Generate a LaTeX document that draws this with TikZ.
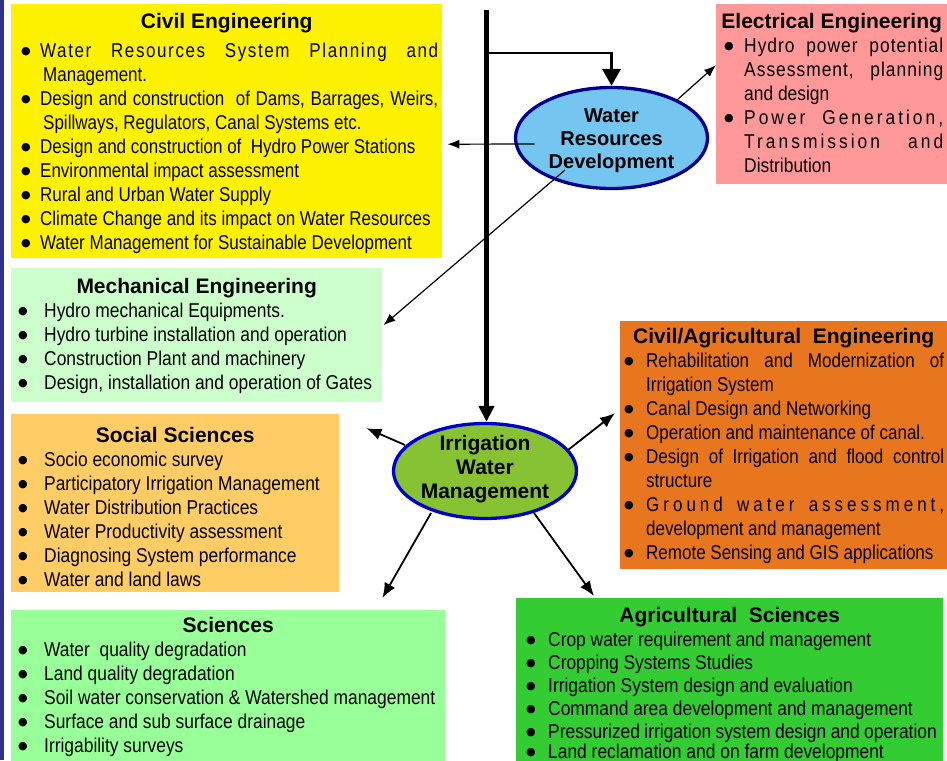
\documentclass[tikz,border=0pt]{standalone}
\usepackage{fontspec}
\setmainfont{Liberation Sans}[FakeStretch=0.87]
\newfontfamily\headfont{Liberation Sans}
\newfontfamily\tightfont{Liberation Sans}[FakeStretch=0.85]
\newfontfamily\dotfont{DejaVu Sans}
\usetikzlibrary{shapes.geometric,arrows.meta,calc}

\definecolor{cYellow}{HTML}{FFF200}
\definecolor{cPink}{HTML}{FF9999}
\definecolor{cMint}{HTML}{CCFFCC}
\definecolor{cPeach}{HTML}{FFCC66}
\definecolor{cLight}{HTML}{99FF99}
\definecolor{cOrange}{HTML}{E8761E}
\definecolor{cGreen}{HTML}{33CC33}
\definecolor{cSky}{HTML}{74C5F0}
\definecolor{cNavy}{HTML}{00008F}
\definecolor{cLime}{HTML}{86C232}
\definecolor{cRoyal}{HTML}{0000CC}
\definecolor{cEdge}{HTML}{2E3192}

\newlength{\bulw}
\newlength{\bulpre}
% bullet item with hanging indent
\newcommand{\itm}[1]{\par\hangindent=\bulw\hangafter=1\noindent
  \hbox to \bulw{\hskip\bulpre{\dotfont\fontsize{11}{0}\selectfont\raisebox{3pt}{●}}\hss}#1}
\newcommand{\hd}[1]{\centerline{\headfont\bfseries\fontsize{21}{24}\selectfont #1}}
\newcommand{\pbox}[3]{\parbox[c][#1][t]{#2}{\fontsize{20}{24}\selectfont
  \hyphenpenalty=10000 \exhyphenpenalty=10000 #3}}

\tikzset{
 b/.style
  = {rectangle, anchor=north west, inner sep=0pt},
 hub/.style
  = {ellipse, draw, line width=3.3pt, inner sep=0pt, align=center},
 l/.style
  = {draw, -{Latex[length=12pt,width=9pt]}, line width=1.2pt},
 ll/.style
  = {draw, -{Latex[length=15pt,width=12pt]}, line width=1.8pt},
 lll/.style
  = {draw, -{Triangle[length=16pt,width=15pt]}, line width=5.3pt},
}

\begin{document}
\begin{tikzpicture}[x=1pt,y=-1pt]
    \useasboundingbox (0,0) rectangle (947,760);
    \clip (0,0) rectangle (947,760);
    \fill[white] (0,0) rectangle (947,760);
    \fill[cEdge] (0,0) rectangle (3.5,760);

    % subject boxes
    \node [b, fill=cYellow, inner xsep=4pt, inner ysep=9pt] (civil) at (11,4) {\pbox{236pt}{423pt}{\tightfont
      \setlength{\bulpre}{6pt}\setlength{\bulw}{25pt}
      \hd{Civil Engineering}\vspace{5pt}
      \itm{{\addfontfeature{LetterSpace=8}Water Resources System Planning and}\linebreak \hspace*{3pt}Management.}
      \itm{Design and construction\ \ of Dams, Barrages, Weirs,\linebreak \hspace*{3pt}Spillways, Regulators, Canal Systems etc.}
      \itm{Design and construction of\ \ Hydro Power Stations}
      \itm{Environmental impact assessment}
      \itm{Rural and Urban Water Supply}
      \itm{Climate Change and its impact on Water Resources}
      \itm{Water Management for Sustainable Development}}};
    \node [b, fill=cPink, inner xsep=4pt, inner ysep=9pt] (elec) at (716,4) {\pbox{162pt}{223pt}{
      \setlength{\bulpre}{4pt}\setlength{\bulw}{24pt}
      \hd{Electrical Engineering}
      \itm{{\addfontfeature{LetterSpace=5}Hydro power potential\linebreak Assessment, planning\linebreak}and design}
      \itm{{\addfontfeature{LetterSpace=15}Power Generation,\linebreak Transmission and\linebreak}Distribution}}};
    \node [b, fill=cMint, inner xsep=4pt, inner ysep=10pt] (mech) at (11,268) {\pbox{114pt}{363pt}{
      \setlength{\bulpre}{3pt}\setlength{\bulw}{29pt}
      \hd{Mechanical Engineering}
      \itm{Hydro mechanical Equipments.}
      \itm{Hydro turbine installation and operation}
      \itm{Construction Plant and machinery}
      \itm{Design, installation and operation of Gates}}};
    \node [b, fill=cPeach, inner xsep=4pt, inner ysep=13pt] (social) at (11,414) {\pbox{152pt}{320pt}{
      \setlength{\bulpre}{3pt}\setlength{\bulw}{29pt}
      \hd{Social Sciences}
      \itm{Socio economic survey}
      \itm{Participatory Irrigation Management}
      \itm{Water Distribution Practices}
      \itm{Water Productivity assessment}
      \itm{Diagnosing System performance}
      \itm{Water and land laws}}};
    \node [b, fill=cLight, inner xsep=4pt, inner ysep=7pt] (sci) at (11,610) {\pbox{150pt}{426pt}{
      \setlength{\bulpre}{3pt}\setlength{\bulw}{29pt}
      \hd{Sciences}
      \itm{Water\ \ quality degradation}
      \itm{Land quality degradation}
      \itm{Soil water conservation \& Watershed management}
      \itm{Surface and sub surface drainage}
      \itm{Irrigability surveys}}};
    \node [b, fill=cOrange, inner xsep=3pt, inner ysep=7pt] (civagri) at (620,321) {\pbox{234pt}{321pt}{\tightfont
      \setlength{\bulpre}{1pt}\setlength{\bulw}{23pt}
      \hd{Civil/Agricultural\ \ Engineering}
      \itm{Rehabilitation and Modernization of\linebreak Irrigation System}
      \itm{Canal Design and Networking}
      \itm{Operation and maintenance of canal.}
      \itm{Design of Irrigation and flood control\linebreak structure}
      \itm{{\addfontfeature{LetterSpace=20}Ground water assessment,\linebreak}development and management}
      \itm{Remote Sensing and GIS applications}}};
    \node [b, fill=cGreen, inner xsep=2pt, inner ysep=9pt] (agri) at (516,598) {\pbox{160pt}{423pt}{
      \fontsize{20}{23}\selectfont
      \setlength{\bulpre}{8pt}\setlength{\bulw}{30pt}
      \hd{Agricultural\ \ Sciences}\vspace{1pt}
      \itm{Crop water requirement and management}
      \itm{Cropping Systems Studies}
      \itm{Irrigation System design and evaluation}
      \itm{Command area development and management}
      \itm{Pressurized irrigation system design and operation}
      \vspace{-3pt}
      \itm{Land reclamation and on farm development}}};

    % the two hubs
    \node [hub, fill=cSky, draw=cNavy, minimum width=192pt, minimum height=101pt,
      font=\headfont\bfseries\fontsize{20}{23}\selectfont] (wrd) at (611.5,138) {\rule{0pt}{19.5pt}Water\\Resources\\Development};
    \node [hub, fill=cLime, draw=cRoyal, minimum width=183pt, minimum height=95pt, inner sep=-3pt,
      font=\headfont\bfseries\fontsize{21}{24}\selectfont] (iwm) at (485,471) {Irrigation\\Water\\Management\rule[-9pt]{0pt}{0pt}};

    % main stem and branch
    \coordinate (top) at (486.5,10);
    \coordinate (fork) at (486.5,53);
    \path [lll] (top) -- (top |- iwm.north);
    \draw [line width=2pt] (fork) -- ([xshift=1pt]fork -| wrd.north);
    \path [lll, line width=3.5pt, -{Triangle[length=17pt,width=18pt]}] ([yshift=-1pt]fork -| wrd.north) -- (wrd.north);

    % links out of the hubs
    \path [l] ($(wrd)+(-77,6)$) -- ($(civil.east)+(5,13)$);
    \path [l] ($(wrd)+(65.5,-38)$) -- ($(elec.west)+(0,-29)$);
    \path [l] ($(wrd)+(-46.5,32)$) -- ($(mech.east)+(1,-10)$);
    \path [ll] ($(iwm)+(-80,-26)$) -- ($(social.east)+(27,-75)$);
    \path [ll] ($(iwm)+(83,-21)$) -- ($(civagri.west)+(-5,-32)$);
    \path [ll] ($(iwm)+(-54,42)$) -- ($(sci.north east)+(-63,-12)$);
    \path [ll] ($(iwm)+(49,42)$) -- ($(agri.north west)+(78,-2)$);
  \end{tikzpicture}
\end{document}
